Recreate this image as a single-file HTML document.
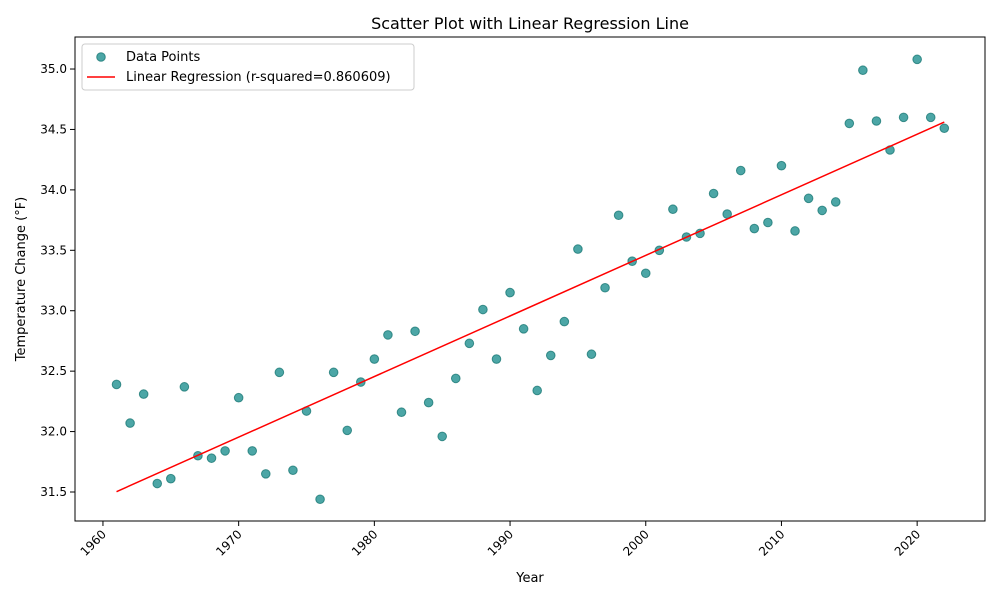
<!DOCTYPE html>
<html><head><meta charset="utf-8"><style>
body{margin:0;background:#fff;font-family:"Liberation Sans","DejaVu Sans",sans-serif;}
svg text{font-family:"DejaVu Sans","Liberation Sans",sans-serif;fill:#000;}
</style></head><body>
<svg id="chart" width="1000" height="600"></svg>
<script>
const years=[];for(let y=1961;y<=2022;y++)years.push(y);
const temps=[32.39,32.07,32.31,31.57,31.61,32.37,31.80,31.78,31.84,32.28,31.84,31.65,32.49,31.68,32.17,31.44,32.49,32.01,32.41,32.60,32.80,32.16,32.83,32.24,31.96,32.44,32.73,33.01,32.60,33.15,32.85,32.34,32.63,32.91,33.51,32.64,33.19,33.79,33.41,33.31,33.50,33.84,33.61,33.64,33.97,33.80,34.16,33.68,33.73,34.20,33.66,33.93,33.83,33.90,34.55,34.99,34.57,34.33,34.60,35.08,34.60,34.51];
const xTicks=[1960,1970,1980,1990,2000,2010,2020];
const yTicks=[31.5,32.0,32.5,33.0,33.5,34.0,34.5,35.0];
const rsq="0.860609";
const NS="http://www.w3.org/2000/svg";
const svg=document.getElementById('chart');
const L=75,R=985,T=37,B=521;
const xMin=1957.94,xMax=2025.0,yMin=31.26,yMax=35.265;
const sx=v=>L+(v-xMin)/(xMax-xMin)*(R-L);
const sy=v=>B-(v-yMin)/(yMax-yMin)*(B-T);
function el(tag,attrs,parent){const e=document.createElementNS(NS,tag);for(const k in attrs)e.setAttribute(k,attrs[k]);(parent||svg).appendChild(e);return e;}
const title=el('text',{x:530,y:29,'text-anchor':'middle','font-size':16});title.textContent='Scatter Plot with Linear Regression Line';


// points
const pts=el('g',{});


years.forEach((y,i)=>{const c=el('circle',{cx:sx(y),cy:sy(temps[i]),r:4.3,fill:'#008080','fill-opacity':0.7,stroke:'#0a6e6a','stroke-opacity':0.7,'stroke-width':1},pts);

});
// regression
const n=years.length;let mx=0,my=0;years.forEach((y,i)=>{mx+=y;my+=temps[i];});mx/=n;my/=n;
let sxy=0,sxx=0;years.forEach((y,i)=>{sxy+=(y-mx)*(temps[i]-my);sxx+=(y-mx)**2;});
const slope=sxy/sxx,icpt=my-slope*mx;
const x0=years[0],x1=years[n-1];
const line=el('line',{x1:sx(x0),y1:sy(icpt+slope*x0),x2:sx(x1),y2:sy(icpt+slope*x1),stroke:'#ff0000','stroke-width':1.5});


// axes frame
const frame=el('rect',{x:L,y:T,width:R-L,height:B-T,fill:'none',stroke:'#000','stroke-width':1});


xTicks.forEach(t=>{const x=sx(t);el('line',{x1:x,y1:B,x2:x,y2:B+5,stroke:'#000'});
const tx=el('text',{x:x+4,y:B+14,'text-anchor':'end','font-size':12,transform:`rotate(-45 ${x+4} ${B+14})`});tx.textContent=t;

});
yTicks.forEach(t=>{const y=sy(t);el('line',{x1:L-5,y1:y,x2:L,y2:y,stroke:'#000'});
const tx=el('text',{x:L-8,y:y+4,'text-anchor':'end','font-size':12});tx.textContent=t.toFixed(1);

});
const xl=el('text',{x:530,y:582,'text-anchor':'middle','font-size':13});xl.textContent='Year';


const yl=el('text',{x:25,y:279,'text-anchor':'middle','font-size':13,transform:'rotate(-90 25 279)'});yl.textContent='Temperature Change (°F)';


// legend
const lg=el('g',{});


el('rect',{x:82,y:44,width:332,height:46,rx:3,fill:'#fff','fill-opacity':0.8,stroke:'#ccc'},lg);
el('circle',{cx:101,cy:57,r:4.3,fill:'#008080','fill-opacity':0.7,stroke:'#0a6e6a','stroke-opacity':0.7},lg);
const t1=el('text',{x:126,y:61,'font-size':13},lg);t1.textContent='Data Points';


el('line',{x1:87,y1:77,x2:115,y2:77,stroke:'#ff0000','stroke-width':1.5},lg);
const t2=el('text',{x:126,y:81,'font-size':13},lg);t2.textContent='Linear Regression (r-squared='+rsq+')';


</script>
</body></html>
